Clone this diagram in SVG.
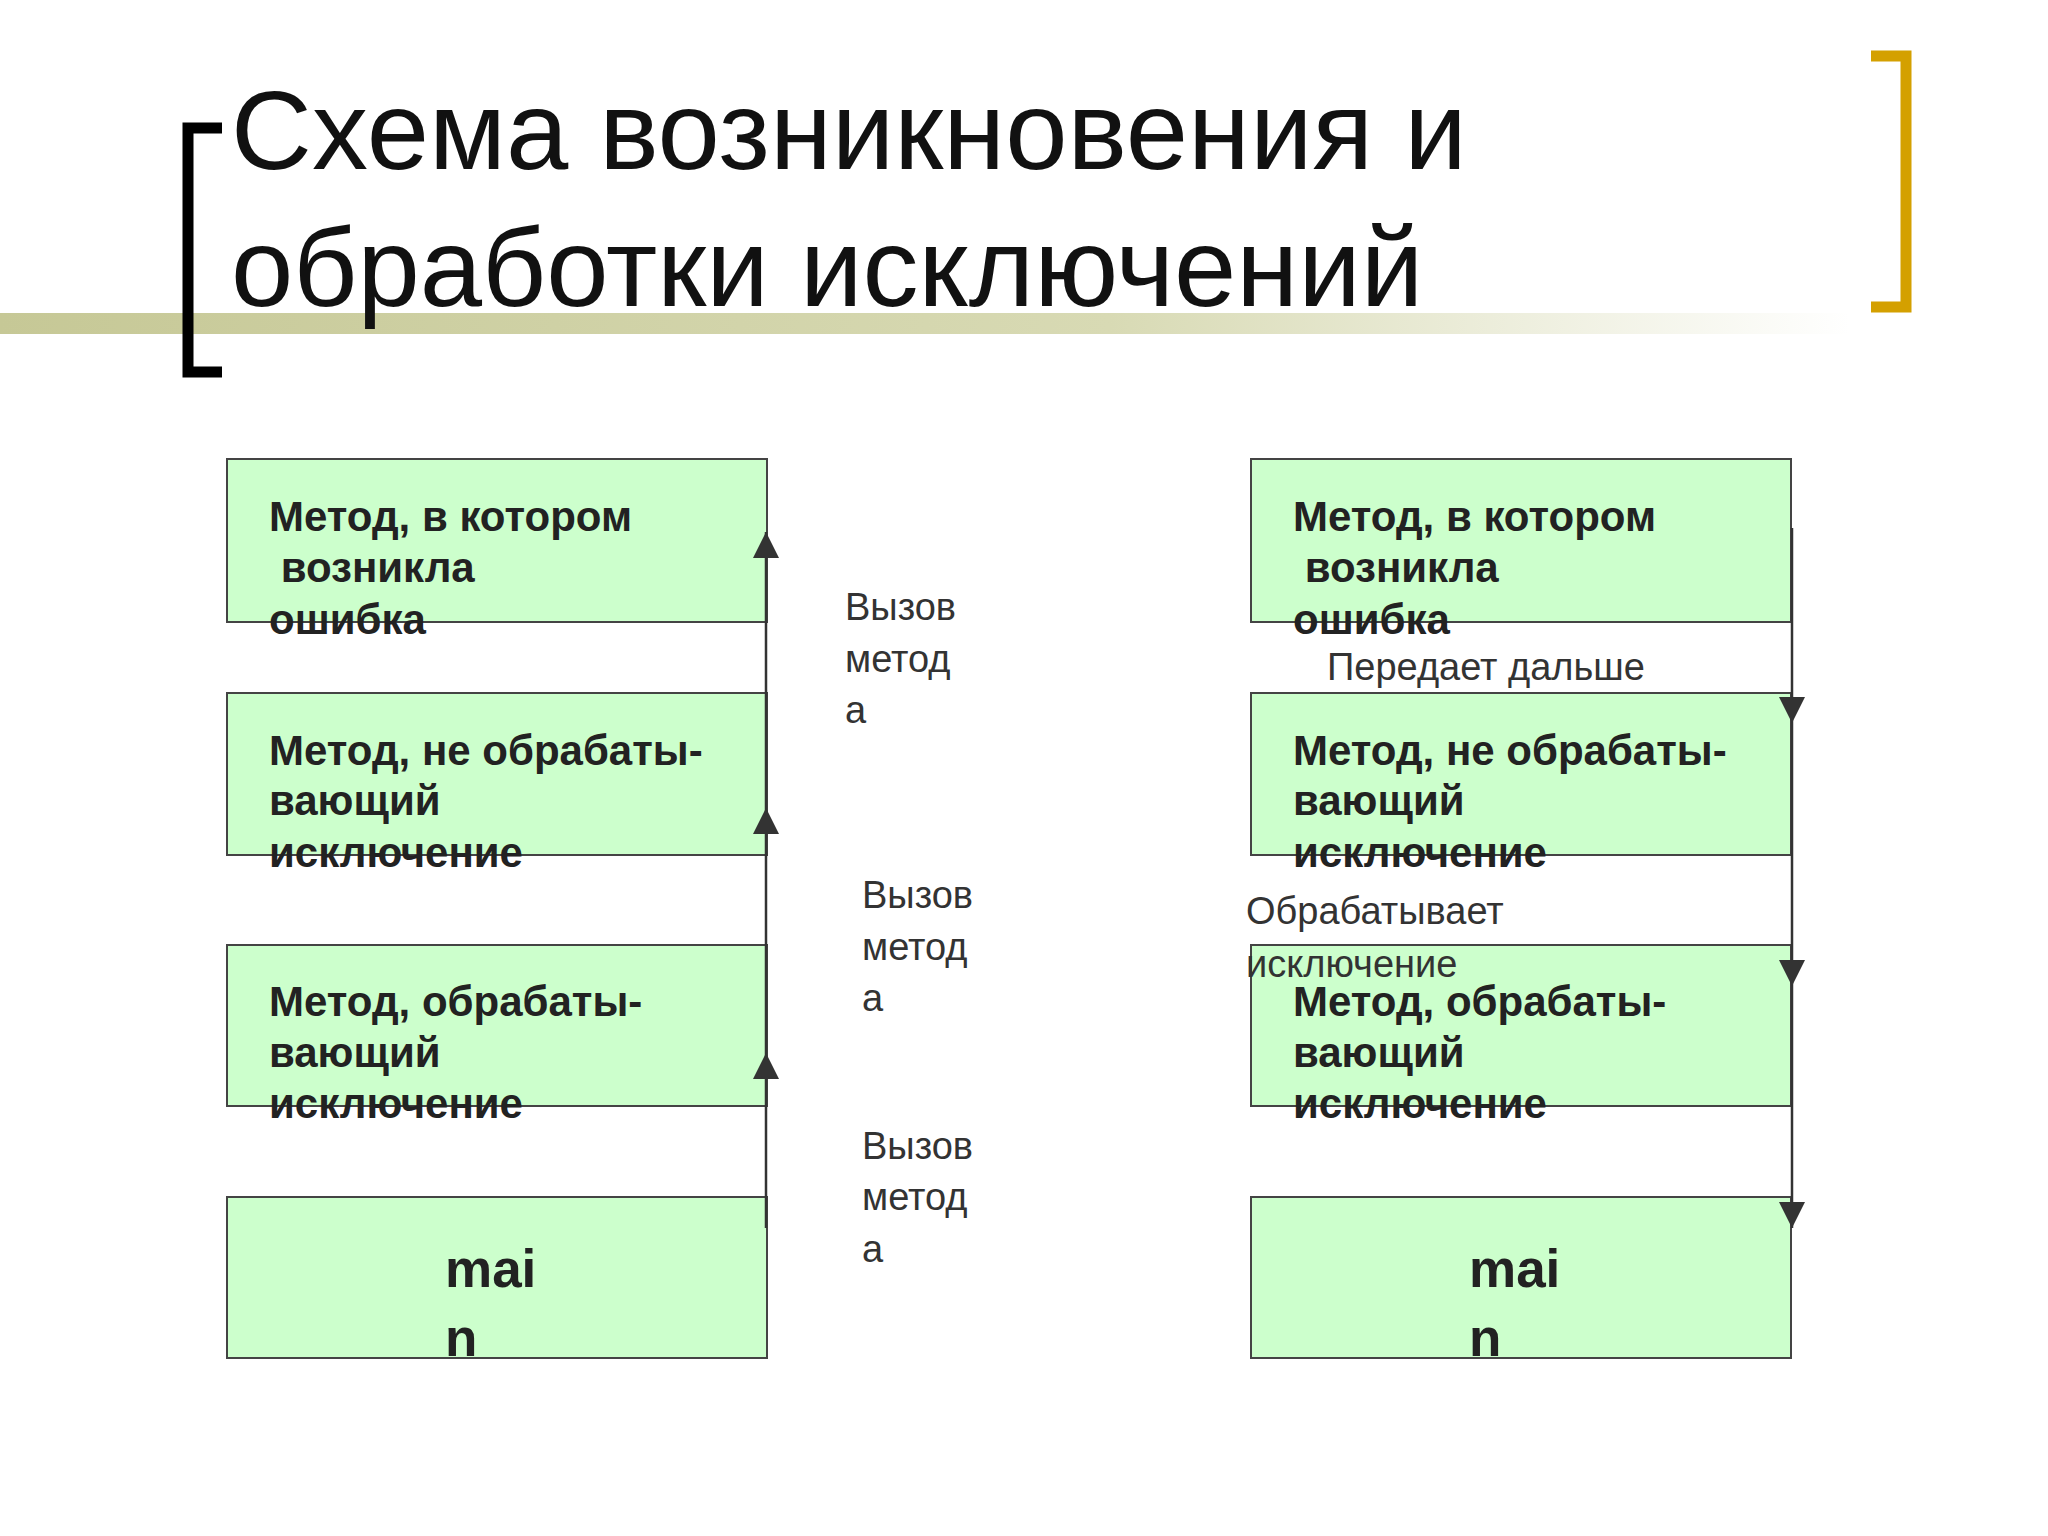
<svg xmlns="http://www.w3.org/2000/svg" width="2048" height="1536" viewBox="0 0 2048 1536">
<defs>
<linearGradient id="band" x1="0" x2="1" y1="0" y2="0">
<stop offset="0" stop-color="#c6c896"/>
<stop offset="0.6" stop-color="#d8dab4"/>
<stop offset="1" stop-color="#ffffff"/>
</linearGradient>
<marker id="ah" viewBox="0 0 10 10" refX="10" refY="5" markerWidth="28" markerHeight="26" markerUnits="userSpaceOnUse" orient="auto">
<path d="M0,0 L10,5 L0,10 z" fill="#333"/>
</marker>
<style>
.box{fill:#ccffcc;stroke:#444;stroke-width:2}
.bt{font-family:"Liberation Sans",Arial,sans-serif;font-weight:bold;font-size:42px;fill:#222}
.mt{font-family:"Liberation Sans",Arial,sans-serif;font-weight:bold;font-size:53px;fill:#222}
.lb{font-family:"Liberation Sans",Arial,sans-serif;font-size:38px;fill:#333}
.ttl{font-family:"Liberation Sans",Arial,sans-serif;font-size:112px;fill:#111}
.ln{stroke:#333;stroke-width:2.5;fill:none}
</style>
</defs>
<rect width="2048" height="1536" fill="#fff"/>
<rect x="0" y="313" width="1850" height="21" fill="url(#band)"/>
<path d="M222,128 H188 V372 H222" fill="none" stroke="#000" stroke-width="11"/>
<path d="M1871,56 H1906 V307 H1871" fill="none" stroke="#d4a000" stroke-width="11"/>
<text class="ttl" x="231" y="169">Схема возникновения и</text>
<text class="ttl" x="231" y="306">обработки исключений</text>

<g id="L1"><rect class="box" x="227" y="459" width="540" height="163"/>
<text class="bt" x="269" y="531">Метод, в котором</text><text class="bt" x="269" y="582" xml:space="preserve"> возникла</text><text class="bt" x="269" y="634">ошибка</text></g>
<g id="L2"><rect class="box" x="227" y="693" width="540" height="162"/>
<text class="bt" x="269" y="765">Метод, не обрабаты-</text><text class="bt" x="269" y="815">вающий</text><text class="bt" x="269" y="867">исключение</text></g>
<g id="L3"><rect class="box" x="227" y="945" width="540" height="161"/>
<text class="bt" x="269" y="1016">Метод, обрабаты-</text><text class="bt" x="269" y="1067">вающий</text><text class="bt" x="269" y="1118">исключение</text></g>
<g id="L4"><rect class="box" x="227" y="1197" width="540" height="161"/>
<text class="mt" x="445" y="1287">mai</text><text class="mt" x="445" y="1356">n</text></g>

<g id="R1"><rect class="box" x="1251" y="459" width="540" height="163"/>
<text class="bt" x="1293" y="531">Метод, в котором</text><text class="bt" x="1293" y="582" xml:space="preserve"> возникла</text><text class="bt" x="1293" y="634">ошибка</text></g>
<g id="R2"><rect class="box" x="1251" y="693" width="540" height="162"/>
<text class="bt" x="1293" y="765">Метод, не обрабаты-</text><text class="bt" x="1293" y="815">вающий</text><text class="bt" x="1293" y="867">исключение</text></g>
<g id="R3"><rect class="box" x="1251" y="945" width="540" height="161"/>
<text class="bt" x="1293" y="1016">Метод, обрабаты-</text><text class="bt" x="1293" y="1067">вающий</text><text class="bt" x="1293" y="1118">исключение</text></g>
<g id="R4"><rect class="box" x="1251" y="1197" width="540" height="161"/>
<text class="mt" x="1469" y="1287">mai</text><text class="mt" x="1469" y="1356">n</text></g>

<g id="connectors">
<line class="ln" x1="766" y1="1228" x2="766" y2="1053" marker-end="url(#ah)"/>
<line class="ln" x1="766" y1="1053" x2="766" y2="808" marker-end="url(#ah)"/>
<line class="ln" x1="766" y1="808" x2="766" y2="532" marker-end="url(#ah)"/>
<line class="ln" x1="1792" y1="528" x2="1792" y2="723" marker-end="url(#ah)"/>
<line class="ln" x1="1792" y1="723" x2="1792" y2="986" marker-end="url(#ah)"/>
<line class="ln" x1="1792" y1="986" x2="1792" y2="1228" marker-end="url(#ah)"/>
</g>

<g id="labels">
<text class="lb" x="845" y="620">Вызов</text><text class="lb" x="845" y="672">метод</text><text class="lb" x="845" y="723">а</text>
<text class="lb" x="862" y="908">Вызов</text><text class="lb" x="862" y="960">метод</text><text class="lb" x="862" y="1011">а</text>
<text class="lb" x="862" y="1159">Вызов</text><text class="lb" x="862" y="1210">метод</text><text class="lb" x="862" y="1262">а</text>
<text class="lb" x="1327" y="680">Передает дальше</text>
<text class="lb" x="1246" y="924">Обрабатывает</text><text class="lb" x="1246" y="977">исключение</text>
</g>
</svg>
